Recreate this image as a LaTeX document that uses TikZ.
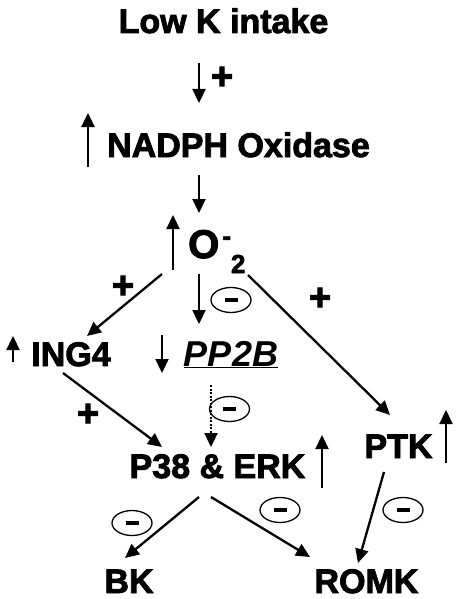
\documentclass[tikz,border=0pt]{standalone}
\usepackage{fontspec}
\setmainfont{Liberation Sans}[BoldFeatures={FakeBold=2.5}]
\usetikzlibrary{shapes,arrows.meta,calc}
\tikzstyle{line} = [draw, line width=2.3pt, -{Triangle[length=14pt,width=13pt]}]
\tikzstyle{sign} = [draw, ellipse, line width=1.3pt, minimum width=40pt,
minimum height=25pt, inner sep=0pt]

\begin{document}
\begin{tikzpicture}[x=1pt, y=-1pt,
		every node/.style={font=\bfseries\fontsize{34}{40}\selectfont},
		mol/.style={anchor=base, inner sep=0pt},
		plus/.style={inner sep=0pt, font=\bfseries\fontsize{38}{40}\selectfont}]
		\useasboundingbox (0,0) rectangle (461,599);
		\node [mol] at (223.5,33) (lowk) {Low K intake};
		\node [mol] at (238.5,157) (nadph) {NADPH Oxidase};
		\node [mol, anchor=base west] at (188,258) (super) {{\fontsize{40}{44}\selectfont O}\kern3pt\raisebox{13pt}{\fontsize{26}{28}\selectfont -}\raisebox{-15pt}{\fontsize{26}{28}\selectfont 2}};
		\node [mol] at (71,366) (ing) {ING4};
		\node [mol] at (231,366) (pptb) {\fontsize{36}{40}\selectfont\underline{\textit{PP2B}}};
		\node [mol] at (217.5,478) (mapk) {P38 \& ERK};
		\node [mol] at (398.5,458) (ptk) {PTK};
		\node [mol] at (129,593) (bk) {BK};
		\node [mol] at (366.5,593) (romk) {ROMK};
		%% Signs
		\node [plus] at (222,78) (p1) {+};
		\node [plus] at (123,287) (p2) {+};
		\node [plus] at (320,299) (p3) {+};
		\node [plus] at (88,415) (p4) {+};
		\node [sign] at (231,300) (m1) {\rule{13pt}{3.5pt}};
		\node [sign] at (229.5,409) (m2) {\rule{13pt}{3.5pt}};
		\node [sign] at (132,523) (m3) {\rule{13pt}{3.5pt}};
		\node [sign] at (280,510) (m4) {\rule{13pt}{3.5pt}};
		\node [sign] at (403,510) (m5) {\rule{13pt}{3.5pt}};
		%% Up and down
		\path [line] ($(nadph.base)+(-150.5,10)$) to ++(0,-54);
		\path [line] ($(super.base west)+(-15,12)$) to ++(0,-55);
		\path [line] ($(ing.base)+(-58,-4)$) to ++(0,-26);
		\path [line] ($(pptb.base)+(-69,-31)$) to ++(0,38);
		\path [line] ($(mapk.base)+(104.5,10)$) to ++(0,-53);
		\path [line] ($(ptk.base)+(47.5,5)$) to ++(0,-53);
		%% Links
		\path [line] ($(lowk.base)+(-24.5,30)$) to ($(nadph.base)+(-39.5,-54)$);
		\path [line] ($(nadph.base)+(-39.5,18)$) to ($(super.base west)+(11,-45)$);
		\path [line] ($(super.base west)+(-26,16)$) to ($(ing.base)+(16,-30)$);
		\path [line] ($(super.base west)+(11,16)$) to ($(pptb.base)+(-32,-42)$);
		\path [line] ($(super.base west)+(60,17)$) to ($(ptk.base)+(-8.5,-43)$);
		\path [line, dash pattern=on 2pt off 1.5pt] ($(pptb.base)+(-20,19)$) to ($(mapk.base)+(-6.5,-31)$);
		\path [line] ($(ing.base)+(-8,7)$) to ($(mapk.base)+(-55.5,-31)$);
		\path [line] ($(mapk.base)+(-18.5,19)$) to ($(bk.base)+(-4,-35)$);
		\path [line] ($(mapk.base)+(-6.5,19)$) to ($(romk.base)+(-56.5,-36)$);
		\path [line] ($(ptk.base)+(-14.5,14)$) to ($(romk.base)+(-8.5,-30)$);
\end{tikzpicture}
\end{document}
